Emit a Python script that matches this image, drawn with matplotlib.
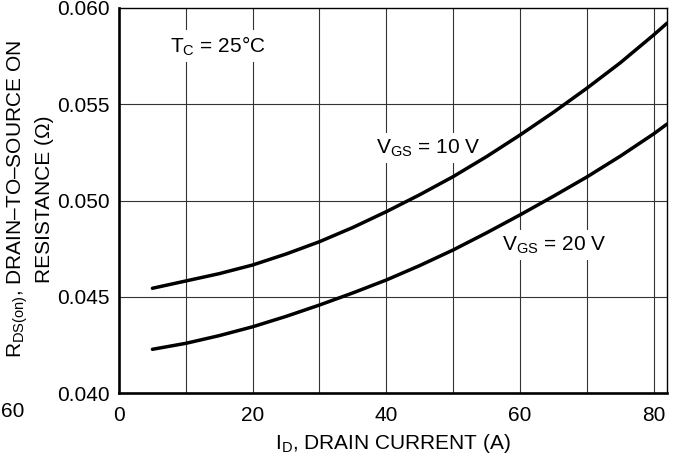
import matplotlib
matplotlib.use("Agg")
import matplotlib.pyplot as plt

plt.rcParams['font.family'] = ['Liberation Sans', 'DejaVu Sans']
plt.rcParams['mathtext.fontset'] = 'custom'
plt.rcParams['mathtext.rm'] = 'Liberation Sans'

# Drain current (A)
current = [5, 10, 15, 20, 25, 30, 35, 40, 45, 50, 55, 60, 65, 70, 75, 80, 82]
# R_DS(on) (ohm) for VGS = 10 V
r_vgs10 = [0.04544, 0.04582, 0.04620, 0.04665, 0.04722, 0.04786, 0.04860, 0.04942,
           0.05030, 0.05124, 0.05228, 0.05340, 0.05458, 0.05583, 0.05715, 0.05860, 0.05921]
# R_DS(on) (ohm) for VGS = 20 V
r_vgs20 = [0.04227, 0.04258, 0.04298, 0.04344, 0.04398, 0.04457, 0.04520, 0.04587,
           0.04662, 0.04743, 0.04832, 0.04925, 0.05022, 0.05122, 0.05230, 0.05346, 0.05397]

x_ticks = [0, 20, 40, 60, 80]
x_grid = [10, 20, 30, 40, 50, 60, 70, 80]
y_ticks = [0.040, 0.045, 0.050, 0.055, 0.060]
y_tick_labels = ['0.040', '0.045', '0.050', '0.055', '0.060']

FS = 15
fig = plt.figure(figsize=(6.77, 4.65), dpi=100)
ax = fig.add_axes([119/677, 1 - 393/465, (667 - 119)/677, (393 - 8)/465])

ax.set_xlim(0, 82)
ax.set_ylim(0.040, 0.060)

for gx in x_grid:
    ax.axvline(gx, color='#333333', lw=0.8, zorder=1)
for gy in y_ticks[1:-1]:
    ax.axhline(gy, color='#333333', lw=0.8, zorder=1)

ax.plot(current, r_vgs10, color='black', lw=2.5, solid_capstyle='round',
        solid_joinstyle='round', zorder=3)
ax.plot(current, r_vgs20, color='black', lw=2.5, solid_capstyle='round',
        solid_joinstyle='round', zorder=3)

ax.set_xticks(x_ticks)
ax.set_xticklabels([str(t) for t in x_ticks])
ax.set_yticks(y_ticks)
ax.set_yticklabels(y_tick_labels)
ax.tick_params(axis='both', length=0, labelsize=FS)
ax.tick_params(axis='x', pad=9)
ax.tick_params(axis='y', pad=7)

for side in ['left', 'bottom']:
    ax.spines[side].set_linewidth(1.9)
for side in ['top', 'right']:
    ax.spines[side].set_linewidth(1.0)

bb = dict(facecolor='white', edgecolor='none', pad=3)
ax.text(7.6, 0.05803, r'T$_\mathregular{C}$ = 25°C', fontsize=FS, ha='left', va='center', bbox=bb, zorder=2)
ax.text(38.5, 0.05273, r'V$_\mathregular{GS}$ = 10 V', fontsize=FS, ha='left', va='center', bbox=bb, zorder=2)
ax.text(57.3, 0.04769, r'V$_\mathregular{GS}$ = 20 V', fontsize=FS, ha='left', va='center', bbox=bb, zorder=2)

fig.text(18/677, 1 - 199/465, r'R$_\mathregular{DS(on)}$, DRAIN–TO–SOURCE ON', rotation=90,
         fontsize=FS, ha='center', va='center')
fig.text(45/677, 1 - 199/465, 'RESISTANCE (Ω)', rotation=90,
         fontsize=FS, ha='center', va='center')
fig.text(393/677, 1 - 443/465, r'I$_\mathregular{D}$, DRAIN CURRENT (A)', fontsize=FS,
         ha='center', va='center')
fig.text(1/677, 1 - 411/465, '60', fontsize=FS, ha='left', va='center')

fig.savefig('out.png', dpi=100)
